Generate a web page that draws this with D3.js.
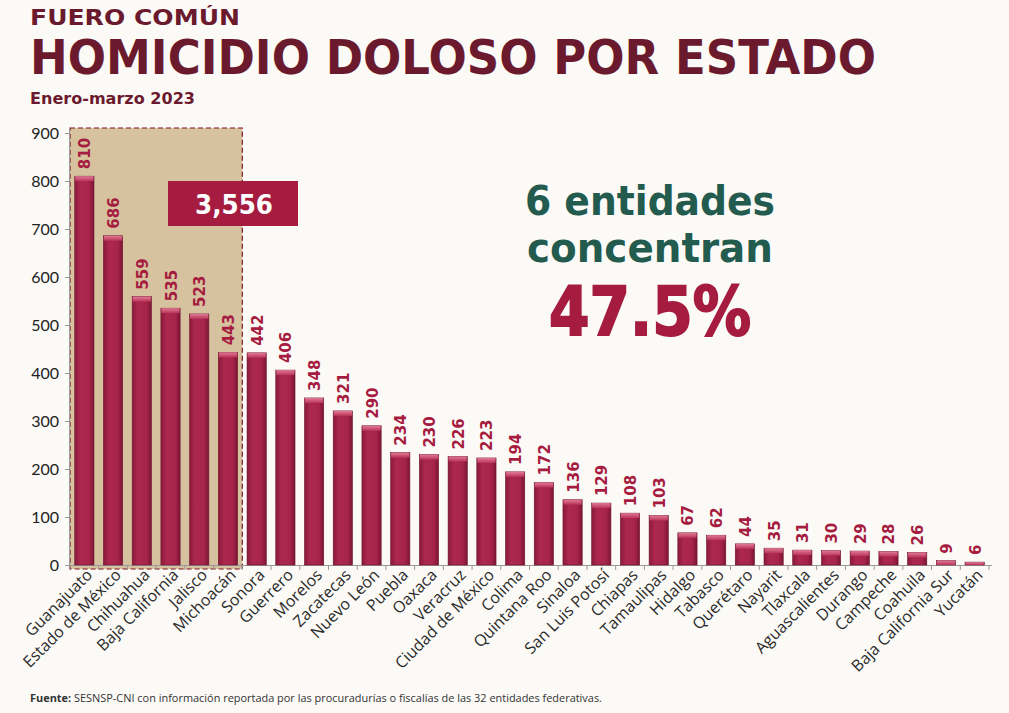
<!DOCTYPE html>
<html><head><meta charset="utf-8">
<script src="https://cdn.jsdelivr.net/npm/d3@7"></script>
<style>
html,body{margin:0;padding:0;background:#fcfaf7;}
svg{display:block;font-family:"DejaVu Sans","Open Sans",sans-serif;}
</style></head>
<body>
<svg id="chart" width="1009" height="713"></svg>
<script>
const categories = ["Guanajuato","Estado de México","Chihuahua","Baja California","Jalisco","Michoacán","Sonora","Guerrero","Morelos","Zacatecas","Nuevo León","Puebla","Oaxaca","Veracruz","Ciudad de México","Colima","Quintana Roo","Sinaloa","San Luis Potosí","Chiapas","Tamaulipas","Hidalgo","Tabasco","Querétaro","Nayarit","Tlaxcala","Aguascalientes","Durango","Campeche","Coahuila","Baja California Sur","Yucatán"];
const values = [810,686,559,535,523,443,442,406,348,321,290,234,230,226,223,194,172,136,129,108,103,67,62,44,35,31,30,29,28,26,9,6];
const yTicks = [0,100,200,300,400,500,600,700,800,900];
const highlightCount = 6;
const highlightTotal = "3,556";
const highlightShare = "47.5%";

const svg = d3.select("#chart");
const W = 1009, H = 713;
const x = d3.scaleBand().domain(categories).range([70, 989]).paddingInner(0.33).paddingOuter(0.165);
const y = d3.scaleLinear().domain([0,900]).range([565,133]);

const defs = svg.append("defs");
const g1 = defs.append("linearGradient").attr("id","barGrad").attr("x1","0").attr("x2","1").attr("y1","0").attr("y2","0");
g1.append("stop").attr("offset","0%").attr("stop-color","#8a1a3a");
g1.append("stop").attr("offset","30%").attr("stop-color","#ad284f");
g1.append("stop").attr("offset","75%").attr("stop-color","#a6244a");
g1.append("stop").attr("offset","100%").attr("stop-color","#7c1533");
const g2 = defs.append("linearGradient").attr("id","capGrad").attr("x1","0").attr("x2","0").attr("y1","0").attr("y2","1");
g2.append("stop").attr("offset","0%").attr("stop-color","#e27a95");
g2.append("stop").attr("offset","100%").attr("stop-color","#b83458");

svg.append("rect").attr("width",W).attr("height",H).attr("fill","#fcfaf7");

// titles
svg.append("text").attr("x",30).attr("y",24.5).attr("fill","#6b1a2e").attr("font-weight","bold")
  .attr("font-size",22).attr("textLength",210).attr("lengthAdjust","spacingAndGlyphs").text("FUERO COMÚN");
svg.append("text").attr("x",30).attr("y",74).attr("fill","#6b1a2e").attr("font-weight","bold")
  .attr("font-size",47.5).attr("textLength",846).attr("lengthAdjust","spacingAndGlyphs").text("HOMICIDIO DOLOSO POR ESTADO");
svg.append("text").attr("x",30).attr("y",104).attr("fill","#6b1a2e").attr("font-weight","bold")
  .attr("font-size",16).attr("textLength",165).attr("lengthAdjust","spacingAndGlyphs").text("Enero-marzo 2023");

// highlight area
const hx0 = x.range()[0];
const hx1 = x.range()[0] + x.step()*highlightCount;
svg.append("rect").attr("x",hx0).attr("y",128).attr("width",hx1-hx0).attr("height",569-128)
  .attr("fill","#d6c29f").attr("stroke","#7a1020").attr("stroke-width",1.2).attr("stroke-dasharray","5,3");

// axes
const yAxis = svg.append("g").attr("transform","translate(70,0)")
  .call(d3.axisLeft(y).tickValues(yTicks).tickSize(5).tickPadding(6));
yAxis.select(".domain").attr("stroke","#999").attr("d","M-0.5,128V565.5");
yAxis.selectAll(".tick line").attr("stroke","#999");
yAxis.selectAll(".tick text").attr("fill","#222").attr("font-size",16).attr("font-family","Lato, 'Open Sans', sans-serif");

const xAxis = svg.append("g").attr("transform","translate(0,565)")
  .call(d3.axisBottom(x).tickSize(0).tickFormat(""));
xAxis.select(".domain").attr("stroke","#999").attr("d","M70,0.5H992");
xAxis.selectAll(".tick").remove();
xAxis.selectAll("line.bt").data(d3.range(categories.length+1)).join("line").attr("class","bt")
  .attr("x1",i=>70 + i*x.step()).attr("x2",i=>70 + i*x.step()).attr("y1",0).attr("y2",5).attr("stroke","#999");

// bars
const bars = svg.append("g");
bars.selectAll("rect.bar").data(values).join("rect").attr("class","bar")
  .attr("x",(d,i)=>x(categories[i])).attr("y",d=>y(d)).attr("width",x.bandwidth())
  .attr("height",d=>y(0)-y(d)).attr("fill","url(#barGrad)").attr("stroke","#6e1230").attr("stroke-width",0.6);
bars.selectAll("rect.cap").data(values).join("rect").attr("class","cap")
  .attr("x",(d,i)=>x(categories[i])+0.5).attr("y",d=>y(d)).attr("width",x.bandwidth()-1)
  .attr("height",d=>Math.min(5, y(0)-y(d))).attr("fill","url(#capGrad)");

// value labels
svg.append("g").selectAll("text").data(values).join("text")
  .attr("transform",(d,i)=>`translate(${x(categories[i])+x.bandwidth()/2+6},${y(d)-7}) rotate(-90)`)
  .attr("fill","#a51c40").attr("font-weight","bold").attr("font-size",15)
  .attr("font-family","'DejaVu Sans', sans-serif")
  .text(d=>d);

// category labels
svg.append("g").selectAll("text").data(categories).join("text")
  .attr("transform",(d)=>`translate(${x(d)+x.bandwidth()/2+9},${576}) rotate(-45)`)
  .attr("text-anchor","end").attr("fill","#2a2a2a").attr("font-size",16)
  .attr("font-family","'Open Sans', sans-serif")
  .text(d=>d);

// total box
svg.append("rect").attr("x",168).attr("y",181).attr("width",130).attr("height",45).attr("fill","#a51c40");
svg.append("text").attr("x",234).attr("y",214).attr("text-anchor","middle").attr("fill","#fff")
  .attr("font-weight","bold").attr("font-size",27).attr("textLength",78).attr("lengthAdjust","spacingAndGlyphs").text(highlightTotal);

// annotation
svg.append("text").attr("x",650).attr("y",215).attr("text-anchor","middle").attr("fill","#235b4e")
  .attr("font-weight","bold").attr("font-size",40).attr("textLength",250).attr("lengthAdjust","spacingAndGlyphs").text(`${highlightCount} entidades`);
svg.append("text").attr("x",650).attr("y",262).attr("text-anchor","middle").attr("fill","#235b4e")
  .attr("font-weight","bold").attr("font-size",40).attr("textLength",246).attr("lengthAdjust","spacingAndGlyphs").text("concentran");
svg.append("text").attr("x",650).attr("y",335).attr("text-anchor","middle").attr("fill","#a51c40")
  .attr("font-weight","900").attr("font-size",68).attr("textLength",202).attr("lengthAdjust","spacingAndGlyphs")
  .attr("stroke","#a51c40").attr("stroke-width",2).text(highlightShare);

// footer
const f = svg.append("text").attr("x",30).attr("y",702).attr("font-size",11).attr("fill","#333")
  .attr("font-family","'Open Sans', sans-serif").attr("textLength",572).attr("lengthAdjust","spacingAndGlyphs");
f.append("tspan").attr("font-weight","bold").text("Fuente:");
f.append("tspan").text(" SESNSP-CNI con información reportada por las procuradurías o fiscalías de las 32 entidades federativas.");
</script>
</body></html>
